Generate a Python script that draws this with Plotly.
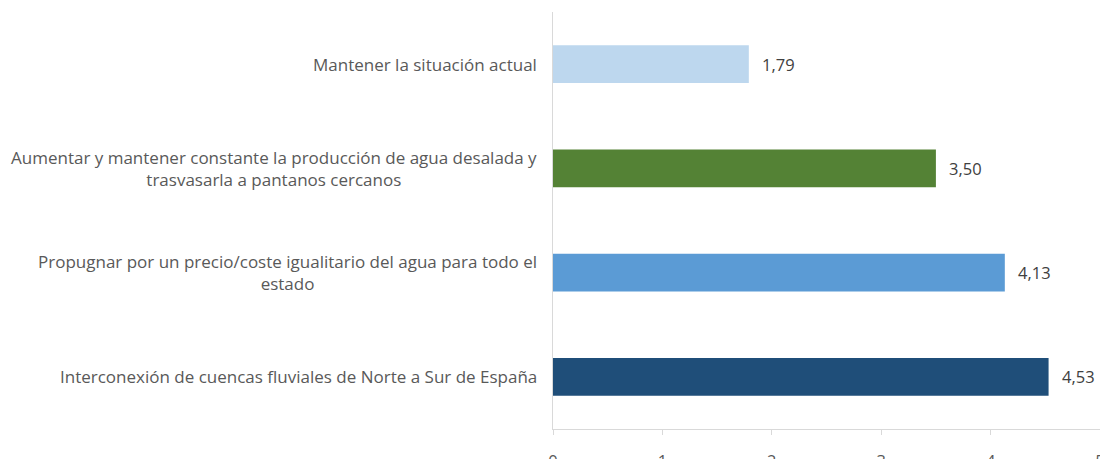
import plotly.graph_objects as go

categories = [
    "Mantener la situación actual",
    "Aumentar y mantener constante la producción de agua desalada y<br>trasvasarla a pantanos cercanos",
    "Propugnar por un precio/coste igualitario del agua para todo el<br>estado",
    "Interconexión de cuencas fluviales de Norte a Sur de España",
]
values = [1.79, 3.50, 4.13, 4.53]
value_labels = ["1,79", "3,50", "4,13", "4,53"]
colors = ["#BDD7EE", "#548235", "#5B9BD5", "#1F4E79"]
tick_vals = [0, 1, 2, 3, 4, 5]

FONT = "Open Sans, Liberation Sans, sans-serif"
FS = 16.5
FS_CAT = 17

fig = go.Figure()
fig.add_trace(go.Bar(
    x=values, y=categories, orientation="h",
    marker=dict(color=colors, line=dict(width=0)),
    width=0.36, hoverinfo="skip",
))

for c in categories:
    fig.add_annotation(
        x=0, xref="paper", y=c, yref="y", text=c, showarrow=False,
        xanchor="right", align="center", xshift=-14,
        font=dict(family=FONT, size=FS_CAT, color="#595959"),
    )

for c, v, lab in zip(categories, values, value_labels):
    fig.add_annotation(
        x=v, xref="x", y=c, yref="y", text=lab, showarrow=False,
        xanchor="left", xshift=11,
        font=dict(family=FONT, size=FS, color="#404040"),
    )

fig.update_layout(
    width=1108, height=459,
    margin=dict(l=545, r=16, t=4, b=38, autoexpand=False),
    paper_bgcolor="white", plot_bgcolor="white",
    separators=",.",
    showlegend=False,
    font=dict(family=FONT, size=FS, color="#595959"),
)
fig.update_xaxes(
    range=[0, 5], tickvals=tick_vals, showgrid=False, zeroline=False,
    showline=True, linecolor="#D9D9D9", linewidth=1,
    ticks="outside", ticklen=5, tickcolor="#D9D9D9",
    tickfont=dict(family=FONT, size=FS, color="#595959"),
    ticklabelstandoff=12, automargin=False, ticklabeloverflow="allow",
)
fig.update_yaxes(
    categoryorder="array", categoryarray=categories[::-1],
    showticklabels=False, showgrid=False, zeroline=False,
    showline=True, linecolor="#D9D9D9", linewidth=1, ticks="",
    automargin=False,
)

fig.write_html("out.html")
